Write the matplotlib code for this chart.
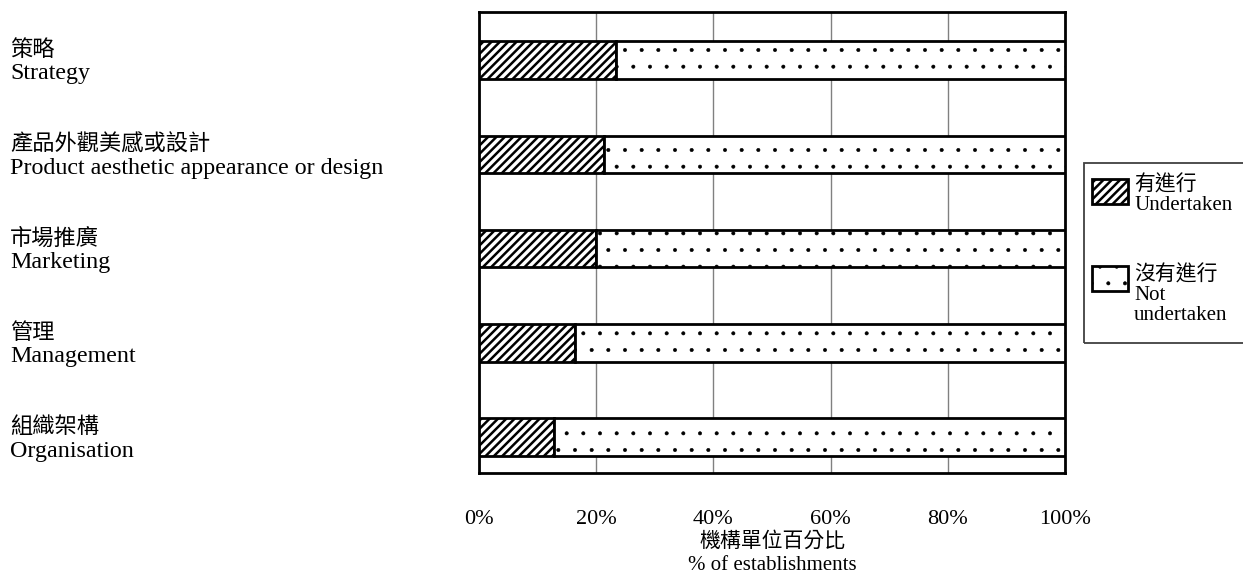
import matplotlib
matplotlib.use("Agg")
import matplotlib.pyplot as plt
import matplotlib.patches as mpatches
from matplotlib.legend_handler import HandlerPatch
from matplotlib.transforms import blended_transform_factory, offset_copy

# Data
categories_zh = ["策略", "產品外觀美感或設計", "市場推廣", "管理", "組織架構"]
categories_en = ["Strategy", "Product aesthetic appearance or design",
                 "Marketing", "Management", "Organisation"]
undertaken = [23.3, 21.3, 19.9, 16.3, 12.8]
not_undertaken = [100 - v for v in undertaken]
tick_values = [0, 20, 40, 60, 80, 100]
tick_labels = ["0%", "20%", "40%", "60%", "80%", "100%"]
series_labels = ["有進行\nUndertaken", "沒有進行\nNot\nundertaken"]

fam = ["Liberation Serif", "Noto Sans CJK TC"]
plt.rcParams["font.family"] = fam
fs = 15
diag_lw = 1.8
dot_lw = 0.4

fig = plt.figure(figsize=(12.43, 5.75), dpi=100)
ax = fig.add_axes([0.3854, 0.1774, 0.4714, 0.8017])

ypos = list(range(len(categories_en)))
with plt.rc_context({"hatch.linewidth": diag_lw}):
    b1 = ax.barh(ypos, undertaken, height=0.40, color="white", edgecolor="black",
                 hatch="////", linewidth=2, zorder=3)
with plt.rc_context({"hatch.linewidth": dot_lw, "hatch.color": "#333333"}):
    b2 = ax.barh(ypos, not_undertaken, left=undertaken, height=0.40, color="white",
                 edgecolor="black", hatch=".", linewidth=2, zorder=3)

ax.set_xlim(0, 100)
ax.set_ylim(4.38, -0.51)
ax.set_xticks(tick_values)
ax.set_xticklabels(tick_labels, fontsize=16)
ax.tick_params(axis="x", length=0, pad=27)
ax.set_yticks([])
ax.grid(axis="x", color="#808080", linewidth=1, zorder=0)
for s in ax.spines.values():
    s.set_linewidth(2)

# x axis title, two lines
ax.text(0.5, -69 / 461, "機構單位百分比", transform=ax.transAxes,
        fontsize=fs, ha="center", va="center")
ax.text(0.5, -93 / 461, "% of establishments", transform=ax.transAxes,
        fontsize=fs, ha="center", va="center")

# category labels on the far left
trans = blended_transform_factory(fig.transFigure, ax.transData)
t_zh = offset_copy(trans, fig=fig, y=6.6, units="points")
t_en = offset_copy(trans, fig=fig, y=-10, units="points")
for y, zh, en in zip(ypos, categories_zh, categories_en):
    ax.text(0.008, y, zh, transform=t_zh, fontsize=16, va="center", ha="left")
    ax.text(0.008, y, en, transform=t_en, fontsize=17.3, va="center", ha="left")


# legend: shift the swatch up so it sits next to the first text line
def shifted(dy):
    def f(legend, orig_handle, xdescent, ydescent, width, height, fontsize):
        return mpatches.Rectangle((-xdescent, -ydescent + dy), width, height)
    return HandlerPatch(patch_func=f)


h1, h2 = b1[0], b2[0]
leg = ax.legend(handles=[h1, h2], labels=series_labels, loc="upper left",
                bbox_to_anchor=(1092 / 1243, 1 - 175 / 575),
                bbox_transform=fig.transFigure, fontsize=fs, frameon=False,
                handlelength=1.73, handleheight=1.49, handletextpad=0.29,
                labelspacing=2.4, borderpad=0, borderaxespad=0,
                handler_map={h1: shifted(2.5), h2: shifted(12)})
for t in leg.get_texts():
    t.set_linespacing(1.05)
for p, lw in zip(leg.get_patches(), [diag_lw, dot_lw]):
    if hasattr(p, "set_hatch_linewidth"):
        p.set_hatch_linewidth(lw)

fig.patches.append(mpatches.Rectangle(
    (1084 / 1243, 1 - 343 / 575), 170 / 1243, 180 / 575,
    transform=fig.transFigure, fill=False, edgecolor="#404040", linewidth=1.3))

fig.savefig("out.png", dpi=100)
